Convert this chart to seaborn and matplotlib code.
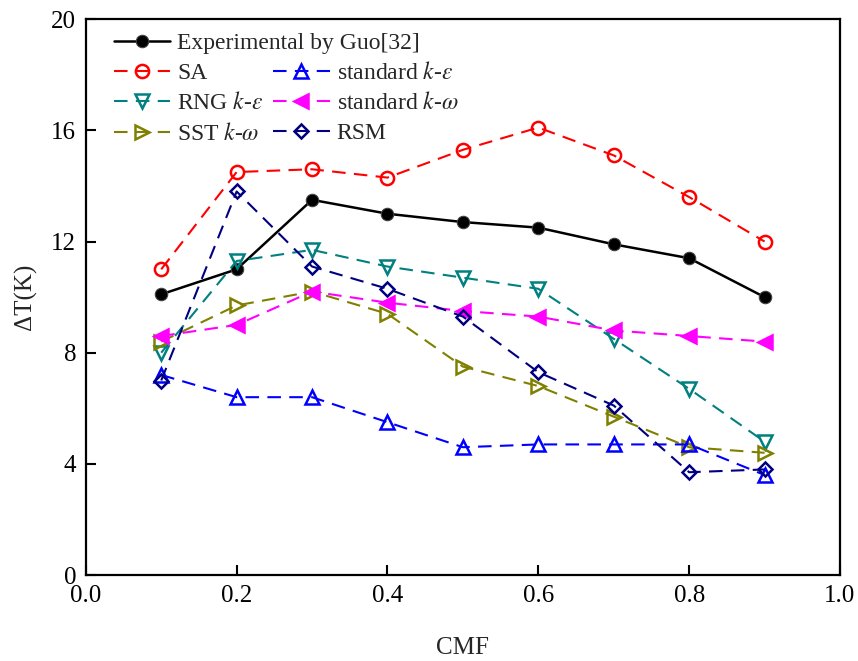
import matplotlib
matplotlib.use("Agg")
import matplotlib.pyplot as plt
import seaborn as sns

# CMF values (x axis)
cmf = [0.1, 0.2, 0.3, 0.4, 0.5, 0.6, 0.7, 0.8, 0.9]

# Temperature difference (K) per model
experimental = [10.1, 11.0, 13.5, 13.0, 12.7, 12.5, 11.9, 11.4, 10.0]
sa = [11.0, 14.5, 14.6, 14.3, 15.3, 16.1, 15.1, 13.6, 12.0]
std_ke = [7.2, 6.4, 6.4, 5.5, 4.6, 4.7, 4.7, 4.7, 3.6]
rng_ke = [8.0, 11.3, 11.7, 11.1, 10.7, 10.3, 8.5, 6.7, 4.8]
std_kw = [8.6, 9.0, 10.2, 9.8, 9.5, 9.3, 8.8, 8.6, 8.4]
sst_kw = [8.4, 9.7, 10.2, 9.4, 7.5, 6.8, 5.7, 4.6, 4.4]
rsm = [7.0, 13.8, 11.1, 10.3, 9.3, 7.3, 6.1, 3.7, 3.8]

sns.set_style("white")
plt.rcParams["font.family"] = ["Liberation Serif", "DejaVu Serif"]
plt.rcParams["mathtext.fontset"] = "stix"

fig = plt.figure(figsize=(8.58, 6.61), dpi=100)
ax = fig.add_axes([0.100, 0.130, 0.879, 0.841])

# Experimental: solid black with filled dots
sns.lineplot(x=cmf, y=experimental, ax=ax, color="black", lw=1.8,
             marker="o", markersize=9, markerfacecolor="black",
             markeredgecolor="#444444", label="Experimental by Guo[32]")

dash = (0, (6.5, 4))
models = [
    (sa, "SA", "#ff0000", "o", "none"),
    (rng_ke, "RNG $k$-$\\varepsilon$", "#008080", "v", "none"),
    (sst_kw, "SST $k$-$\\omega$", "#808000", ">", "none"),
    (std_ke, "standard $k$-$\\varepsilon$", "#0000ff", "^", "none"),
    (std_kw, "standard $k$-$\\omega$", "#ff00ff", "<", "#ff00ff"),
    (rsm, "RSM", "#000080", "D", "none"),
]
for vals, name, col, mk, fc in models:
    ms = 7.5 if mk == "D" else 9.5
    sns.lineplot(x=cmf, y=vals, ax=ax, color=col, lw=1.5, linestyle=dash,
                 marker=mk, markersize=ms, markerfacecolor=fc,
                 markeredgecolor=col, markeredgewidth=1.8, label=name)

ax.set_xlim(0, 1.0)
ax.set_ylim(0, 20)
ax.set_xticks([0.0, 0.2, 0.4, 0.6, 0.8, 1.0])
ax.set_yticks([0, 4, 8, 12, 16, 20])
ax.set_xticklabels(["0.0", "0.2", "0.4", "0.6", "0.8", "1.0"])
ax.tick_params(bottom=True, left=True, direction="in", length=7, width=1.5,
               labelsize=18, pad=7, colors="black")
for sp in ax.spines.values():
    sp.set_linewidth(1.6)
    sp.set_color("black")

ax.set_xlabel("CMF", fontsize=18, labelpad=22)
ax.set_ylabel("ΔT(K)", fontsize=18, labelpad=10)

handles, labels = ax.get_legend_handles_labels()
leg1 = ax.legend(handles[:1], labels[:1], loc="upper left",
                 bbox_to_anchor=(0.015, 1.005), frameon=False, fontsize=17,
                 handlelength=2.4, handletextpad=0.3, borderaxespad=0.3)
ax.add_artist(leg1)
ax.legend(handles[1:], labels[1:], loc="upper left", ncol=2,
          bbox_to_anchor=(0.015, 0.953), frameon=False, fontsize=17,
          handlelength=2.4, handletextpad=0.3, columnspacing=0.4,
          labelspacing=0.36, borderaxespad=0.3)

fig.savefig("out.png", dpi=100)
